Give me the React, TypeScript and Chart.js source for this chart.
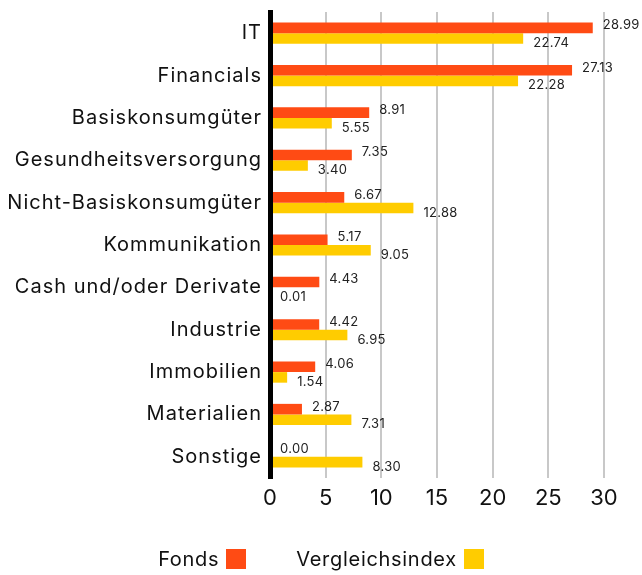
import React, { useEffect, useRef } from "react";
import { Chart, registerables } from "chart.js";

Chart.register(...registerables);

const categories = [
  "IT",
  "Financials",
  "Basiskonsumgüter",
  "Gesundheitsversorgung",
  "Nicht-Basiskonsumgüter",
  "Kommunikation",
  "Cash und/oder Derivate",
  "Industrie",
  "Immobilien",
  "Materialien",
  "Sonstige",
];
const fondsValues = [28.99, 27.13, 8.91, 7.35, 6.67, 5.17, 4.43, 4.42, 4.06, 2.87, 0.0];
const indexValues = [22.74, 22.28, 5.55, 3.4, 12.88, 9.05, 0.01, 6.95, 1.54, 7.31, 8.3];
const seriesNames = ["Fonds", "Vergleichsindex"];
const seriesColors = ["#ff4b14", "#ffcc00"];
const xTicks = [0, 5, 10, 15, 20, 25, 30];

const FONT = "Inter, 'Noto Sans', sans-serif";

const valueLabels = {
  id: "valueLabels",
  beforeDraw(chart: any) {
    chart.ctx.letterSpacing = "0px";
  },
  afterDatasetsDraw(chart: any) {
    const ctx = chart.ctx;
    ctx.save();
    ctx.letterSpacing = "0.3px";
    ctx.font = `13px ${FONT}`;
    ctx.fillStyle = "#222";
    ctx.textBaseline = "middle";
    ctx.textAlign = "left";
    chart.data.datasets.forEach((ds: any, di: number) => {
      const meta = chart.getDatasetMeta(di);
      meta.data.forEach((bar: any, i: number) => {
        const v = ds.data[i] as number;
        const dy = di === 0 ? -2.5 : 4.7;
        ctx.fillText(v.toFixed(2), bar.x + 10, bar.y + dy);
      });
    });
    ctx.restore();
    // category labels (y scale ticks, drawn after datasets) use wider tracking
    ctx.letterSpacing = "1px";
  },
  afterDraw(chart: any) {
    chart.ctx.letterSpacing = "0px";
  },
};

export default function App() {
  const ref = useRef<HTMLCanvasElement>(null);
  useEffect(() => {
    if (!ref.current) return;
    const chart = new Chart(ref.current, {
      type: "bar",
      data: {
        labels: categories,
        datasets: [
          {
            label: seriesNames[0],
            data: fondsValues,
            backgroundColor: seriesColors[0],
            categoryPercentage: 0.5,
            barPercentage: 1,
          },
          {
            label: seriesNames[1],
            data: indexValues,
            backgroundColor: seriesColors[1],
            categoryPercentage: 0.5,
            barPercentage: 1,
          },
        ],
      },
      options: {
        indexAxis: "y",
        animation: false,
        responsive: false,
        maintainAspectRatio: false,
        layout: { padding: { top: 12, right: 38, left: 0, bottom: 0 } },
        plugins: {
          legend: { display: false },
          tooltip: { enabled: false },
        },
        scales: {
          x: {
            min: 0,
            max: 30,
            afterBuildTicks: (scale: any) => {
              scale.ticks = xTicks.map((v) => ({ value: v }));
            },
            afterFit: (scale: any) => {
              scale.height = 97;
            },
            grid: {
              color: "#c8c8c8",
              lineWidth: 2,
              drawTicks: false,
            },
            border: { display: false },
            ticks: {
              color: "#111",
              padding: 7,
              font: { family: FONT, size: 22 },
            },
          },
          y: {
            afterFit: (scale: any) => {
              scale.width = 270;
              scale.paddingTop = 0;
              scale.paddingBottom = 0;
            },
            grid: { display: false, drawTicks: false },
            border: { display: true, color: "#000", width: 5, z: 1 },
            ticks: {
              z: 1,
              color: "#111",
              padding: 8,
              font: { family: FONT, size: 20 },
            },
          },
        },
      },
      plugins: [valueLabels],
    } as any);
    return () => chart.destroy();
  }, []);

  const legendText: React.CSSProperties = {
    fontFamily: FONT,
    fontSize: 20,
    letterSpacing: "0.7px",
    color: "#111",
  };
  const sq = (c: string): React.CSSProperties => ({
    display: "inline-block",
    width: 20,
    height: 20,
    background: c,
    marginLeft: 7,
  });

  return (
    <div style={{ position: "fixed", left: 0, top: 0, width: 642, height: 575, background: "#fff" }}>
      <canvas ref={ref} width={642} height={575} style={{ position: "absolute", left: 0, top: 0 }} />
      <div
        style={{
          position: "absolute",
          left: 0,
          top: 549,
          width: 642,
          height: 20,
          display: "flex",
          justifyContent: "center",
          alignItems: "center",
        }}
      >
        <span style={{ display: "flex", alignItems: "center" }}>
          <span style={legendText}>{seriesNames[0]}</span>
          <span style={sq(seriesColors[0])} />
        </span>
        <span style={{ display: "flex", alignItems: "center", marginLeft: 50 }}>
          <span style={legendText}>{seriesNames[1]}</span>
          <span style={sq(seriesColors[1])} />
        </span>
      </div>
    </div>
  );
}
